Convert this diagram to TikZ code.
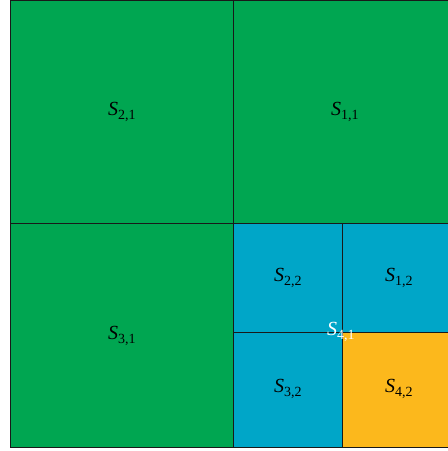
\documentclass[tikz,border=0pt]{standalone}
\usepackage{amsmath,amssymb}
\usepackage{fontspec}
\setmainfont{Liberation Serif}
\usepackage{tikz}

\definecolor{sgreen}{RGB}{0,166,81}
\definecolor{sblue}{RGB}{0,166,200}
\definecolor{syellow}{RGB}{252,184,28}

\newcommand{\sname}[1]{\textit{S}$_{\text{#1}}$}

\tikzset{
  cell/.style={draw=black!90,line width=1pt},
  lab/.style={font=\fontsize{20}{24}\selectfont}
}

\begin{document}
\begin{tikzpicture}[x=1pt,y=-1pt]
\useasboundingbox (0,0) rectangle (448,451);
\fill[white] (0,0) rectangle (448,451);
% big quarters
\draw[cell,fill=sgreen] (10,0) rectangle (233,223);
\draw[cell,fill=sgreen] (233,0) rectangle (456,223);
\draw[cell,fill=sgreen] (10,223) rectangle (233,447);
% small quarters
\draw[cell,fill=sblue] (233,223) rectangle (342,332);
\draw[cell,fill=sblue] (342,223) rectangle (456,332);
\draw[cell,fill=sblue] (233,332) rectangle (342,447);
\draw[cell,fill=syellow] (342,332) rectangle (456,447);
\node[lab] (s21) at (122,112) {\sname{2,1}};
\node[lab] (s11) at (345,112) {\sname{1,1}};
\node[lab] (s31) at (122,336) {\sname{3,1}};
\node[lab] (s22) at (288,278) {\sname{2,2}};
\node[lab] (s12) at (399,278) {\sname{1,2}};
\node[lab] (s32) at (288,389) {\sname{3,2}};
\node[lab] (s42) at (399,389) {\sname{4,2}};
\node[lab,white] (s41) at (341,332) {\sname{4,1}};
\end{tikzpicture}
\end{document}
